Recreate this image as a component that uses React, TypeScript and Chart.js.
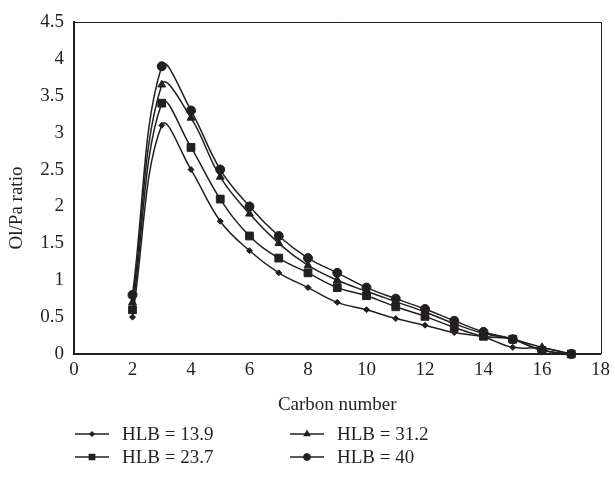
import React, { useEffect, useRef } from "react";
import { Chart, registerables } from "chart.js";
import { drawPoint } from "chart.js/helpers";

Chart.register(...registerables);

const INK = "#231f20";
const FONT = '"Liberation Serif", "Times New Roman", serif';

const carbonNumbers = [2, 3, 4, 5, 6, 7, 8, 9, 10, 11, 12, 13, 14, 15, 16, 17];
const hlb139 = [0.5, 3.1, 2.5, 1.8, 1.4, 1.1, 0.9, 0.7, 0.6, 0.48, 0.39, 0.29, 0.23, 0.09, 0.08, 0];
const hlb237 = [0.6, 3.4, 2.8, 2.1, 1.6, 1.3, 1.1, 0.9, 0.79, 0.64, 0.51, 0.36, 0.24, 0.2, 0.05, 0];
const hlb312 = [0.7, 3.65, 3.2, 2.4, 1.9, 1.5, 1.2, 1.0, 0.85, 0.71, 0.57, 0.41, 0.28, 0.2, 0.09, 0];
const hlb40 = [0.8, 3.9, 3.3, 2.5, 2.0, 1.6, 1.3, 1.1, 0.9, 0.75, 0.61, 0.45, 0.3, 0.2, 0.05, 0];

const seriesLabels = ["HLB = 13.9", "HLB = 23.7", "HLB = 31.2", "HLB = 40"];
const seriesMarkers = ["rectRot", "rect", "triangle", "circle"];
const seriesRadii = [3, 5.5, 4.5, 4.5];
const seriesValues = [hlb139, hlb237, hlb312, hlb40];

const xTitle = "Carbon number";
const yTitle = "Ol/Pa ratio";

// legend layout: [series index, column, row]
const legendLayout = [
  [0, 0, 0],
  [2, 1, 0],
  [1, 0, 1],
  [3, 1, 1],
];

const decorPlugin = {
  id: "decor",
  afterDraw(chart: any) {
    const { ctx, chartArea } = chart;
    const { left, right, top, bottom } = chartArea;
    ctx.save();
    // top & right frame lines
    ctx.strokeStyle = INK;
    ctx.lineWidth = 1;
    ctx.beginPath();
    ctx.moveTo(left, Math.round(top) + 0.5);
    ctx.lineTo(Math.round(right) + 0.5, Math.round(top) + 0.5);
    ctx.lineTo(Math.round(right) + 0.5, bottom);
    ctx.stroke();

    // titles
    ctx.fillStyle = INK;
    ctx.font = `19px ${FONT}`;
    ctx.textAlign = "center";
    ctx.textBaseline = "middle";
    ctx.fillText(xTitle, (left + right) / 2, bottom + 51);
    ctx.save();
    ctx.translate(17, 208);
    ctx.rotate(-Math.PI / 2);
    ctx.fillText(yTitle, 0, 0);
    ctx.restore();

    // legend
    const colX = [75, 290];
    const rowY = [bottom + 80, bottom + 103];
    ctx.textAlign = "left";
    legendLayout.forEach(([si, c, r]) => {
      const x0 = colX[c];
      const y = rowY[r];
      ctx.strokeStyle = INK;
      ctx.lineWidth = 1.3;
      ctx.beginPath();
      ctx.moveTo(x0, y);
      ctx.lineTo(x0 + 34, y);
      ctx.stroke();
      ctx.fillStyle = INK;
      drawPoint(
        ctx,
        { pointStyle: seriesMarkers[si], radius: seriesRadii[si] * 0.7, borderWidth: 1, rotation: 0 } as any,
        x0 + 17,
        y
      );
      ctx.fill();
      ctx.fillStyle = INK;
      ctx.fillText(seriesLabels[si], x0 + 47, y + 1);
    });
    ctx.restore();
  },
};

export default function App() {
  const ref = useRef<HTMLCanvasElement | null>(null);
  useEffect(() => {
    if (!ref.current) return;
    const datasets = seriesValues.map((vals, i) => ({
      label: seriesLabels[i],
      data: carbonNumbers.map((c, j) => ({ x: c, y: vals[j] })),
      borderColor: INK,
      backgroundColor: INK,
      borderWidth: 1.5,
      tension: 0.4,
      pointStyle: seriesMarkers[i],
      pointRadius: seriesRadii[i],
      pointBackgroundColor: INK,
      pointBorderColor: INK,
      pointBorderWidth: 1,
      clip: false as any,
    }));
    const chart = new Chart(ref.current, {
      type: "line",
      data: { datasets },
      plugins: [decorPlugin],
      options: {
        responsive: false,
        animation: false,
        layout: { padding: { top: 22, right: 11, left: 0, bottom: 70 } },
        plugins: { legend: { display: false }, tooltip: { enabled: false } },
        scales: {
          x: {
            type: "linear",
            min: 0,
            max: 18,
            afterFit: (s: any) => {
              s.height = 60;
            },
            grid: { display: false, drawTicks: false },
            border: { display: true, color: INK, width: 2 },
            ticks: {
              stepSize: 2,
              padding: 5,
              color: INK,
              font: { family: FONT, size: 19 },
              callback: (v: any) => String(v),
            },
          },
          y: {
            type: "linear",
            min: 0,
            max: 4.5,
            afterFit: (s: any) => {
              s.width = 74;
            },
            grid: { display: false, drawTicks: false },
            border: { display: true, color: INK, width: 2 },
            ticks: {
              stepSize: 0.5,
              padding: 10,
              color: INK,
              font: { family: FONT, size: 19 },
              callback: (v: any) => String(Math.round(Number(v) * 10) / 10),
            },
          },
        },
      },
    });
    return () => chart.destroy();
  }, []);
  return (
    <div style={{ position: "absolute", left: 0, top: 0, width: 615, height: 484 }}>
      <canvas ref={ref} width={615} height={484} style={{ display: "block" }} />
    </div>
  );
}
